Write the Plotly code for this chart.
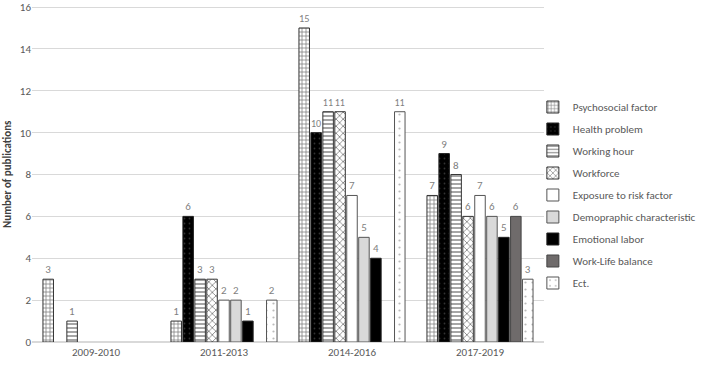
import plotly.graph_objects as go

periods = ["2009-2010", "2011-2013", "2014-2016", "2017-2019"]
series_names = ["Psychosocial factor", "Health problem", "Working hour", "Workforce",
                "Exposure to risk factor", "Demopraphic characteristic", "Emotional labor",
                "Work-Life balance", "Ect."]
psychosocial = [3, 1, 15, 7]
health = [None, 6, 10, 9]
working_hour = [1, 3, 11, 8]
workforce = [None, 3, 11, 6]
exposure = [None, 2, 7, 7]
demographic = [None, 2, 5, 6]
emotional = [None, 1, 4, 5]
worklife = [None, None, None, 6]
ect = [None, 2, 11, 3]
y_ticks = [0, 2, 4, 6, 8, 10, 12, 14, 16]

values = [psychosocial, health, working_hour, workforce, exposure, demographic,
          emotional, worklife, ect]

styles = [
    dict(color="white", pattern=dict(shape="+", fgcolor="black", bgcolor="white", size=4, solidity=0.35), line="#333333"),
    dict(color="black", pattern=dict(shape=".", fgcolor="#666666", bgcolor="black", size=5, solidity=0.1), line="#222222"),
    dict(color="white", pattern=dict(shape="-", fgcolor="black", bgcolor="white", size=4, solidity=0.35), line="#333333"),
    dict(color="white", pattern=dict(shape="x", fgcolor="black", bgcolor="white", size=5, solidity=0.3), line="#333333"),
    dict(color="white", pattern=None, line="#555555"),
    dict(color="#d9d9d9", pattern=None, line="#555555"),
    dict(color="black", pattern=None, line="#222222"),
    dict(color="#6f6b6b", pattern=None, line="#444444"),
    dict(color="white", pattern=dict(shape=".", fgcolor="#777777", bgcolor="white", size=7, solidity=0.08), line="#555555"),
]

fig = go.Figure()
for i, (name, vals, st) in enumerate(zip(series_names, values, styles)):
    marker = dict(color=st["color"], line=dict(color=st["line"], width=1))
    if st["pattern"] is not None:
        marker["pattern"] = st["pattern"]
    fig.add_trace(go.Bar(
        x=periods, y=vals, name=name, marker=marker,
        text=[("" if v is None else str(v)) for v in vals],
        textposition="outside", cliponaxis=False,
        textfont=dict(family="Calibri, Carlito, Liberation Sans, Arial", size=11, color="#7f7f7f"),
        legendgroup=f"g{i}",
    ))

fig.update_layout(
    width=703, height=369,
    margin=dict(l=32, r=159, t=6, b=27, autoexpand=False),
    plot_bgcolor="white", paper_bgcolor="white",
    barmode="group", bargap=0.16, bargroupgap=0.12,
    font=dict(family="Calibri, Carlito, Liberation Sans, Arial", size=11, color="#595959"),
    showlegend=True,
    legend=dict(xref="container", x=0.758, xanchor="left", y=0.4375, yanchor="middle", tracegroupgap=3,
                font=dict(size=11, color="#595959"), itemwidth=30, bgcolor="rgba(0,0,0,0)"),
)
fig.update_yaxes(range=[0, 16.05], tickvals=y_ticks, showgrid=True, gridcolor="#d9d9d9", gridwidth=1,
                 zeroline=True, zerolinecolor="#d9d9d9", ticks="", ticklen=0,
                 tickfont=dict(size=11, color="#595959"), showline=False)
fig.update_xaxes(showline=True, linecolor="#d9d9d9", ticks="",
                 tickfont=dict(size=11, color="#595959"))
fig.add_annotation(text="<b>Number of publications</b>", xref="paper", yref="paper",
                   x=-32/512, xanchor="center", xshift=7, y=0.5, yanchor="middle",
                   textangle=-90, showarrow=False,
                   font=dict(size=11, color="#404040"))

fig.write_html("out.html")
